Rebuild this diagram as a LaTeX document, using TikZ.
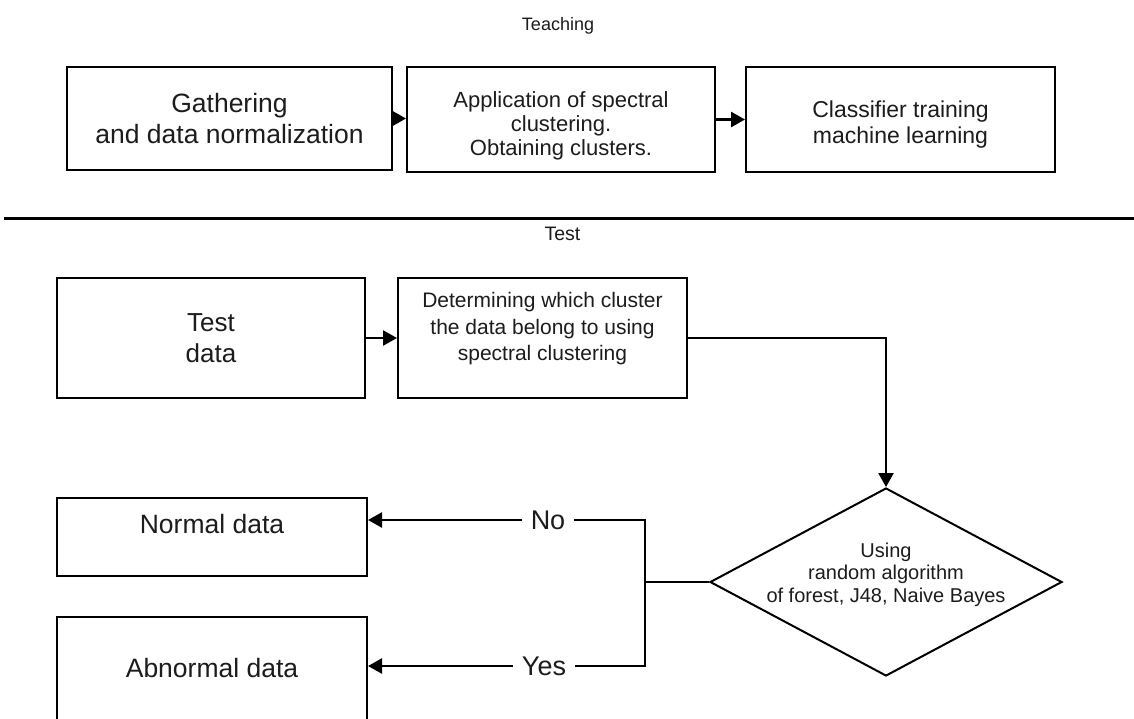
\documentclass[tikz,border=0pt]{standalone}
\usepackage{fontspec}
\setmainfont{Liberation Sans}
\usetikzlibrary{shapes.geometric,arrows.meta}
\definecolor{ink}{HTML}{1C1C1C}
\begin{document}
\begin{tikzpicture}[x=1pt,y=-1pt,
  box/.style={draw=black, line width=2pt, rectangle, inner sep=0pt},
  decision/.style={draw=black, line width=2pt, diamond, inner sep=0pt},
  txt/.style={align=center, text=ink, inner sep=0pt},
  arr/.style={line width=2.5pt, -{Triangle[length=14pt,width=15pt]}},
  conn/.style={line width=2.5pt},
  lbl/.style={text=ink, inner xsep=9pt, inner ysep=0pt, font=\fontsize{27}{32}\selectfont},
  head/.style={text=ink, anchor=base, inner sep=0pt}
]
\useasboundingbox (0,0) rectangle (1134,718);
\clip (0,0) rectangle (1134,718);
\fill[white] (0,0) rectangle (1134,718);

% Teaching stage
\node[head, font=\fontsize{18}{21}\selectfont] (teach) at (558,30) {Teaching};
\node[box, minimum width=325pt, minimum height=103pt,
  label={[txt, font=\fontsize{26.5}{31}\selectfont]center:Gathering\\and data normalization}]
  (gather) at (229.5,118.5) {};
\node[box, minimum width=308pt, minimum height=105pt,
  label={[txt, yshift=-6pt, font=\fontsize{22}{24}\selectfont]center:Application of spectral\\clustering.\\Obtaining clusters.}]
  (spectral) at (561,119.5) {};
\node[box, minimum width=309pt, minimum height=105pt,
  label={[txt, yshift=-5pt, font=\fontsize{23}{26}\selectfont]center:Classifier training\\machine learning}]
  (train) at (900.5,119.5) {};
\draw[arr] (gather.east) -- (gather.east -| spectral.west);
\draw[arr] (spectral.east) -- (spectral.east -| train.west);

% separator between the two stages
\coordinate (sepL) at (4,218);
\coordinate (sepR) at (1134,218);
\draw[line width=3pt] (sepL) -- (sepR);

% Test stage
\node[head, font=\fontsize{19.5}{23}\selectfont] (test) at (562.5,240) {Test};
\node[box, minimum width=308pt, minimum height=120pt,
  label={[txt, font=\fontsize{26}{31}\selectfont]center:Test\\data}]
  (tdata) at (211,338) {};
\node[box, minimum width=289pt, minimum height=120pt,
  label={[txt, yshift=9pt, font=\fontsize{21}{26.5}\selectfont]center:Determining which cluster\\the data belong to using\\spectral clustering}]
  (determ) at (542.5,338) {};
\node[decision, minimum width=352pt, minimum height=188pt,
  label={[txt, yshift=7.5pt, font=\fontsize{20}{22.5}\selectfont]center:Using\\random algorithm\\of forest, J48, Naive Bayes}]
  (algo) at (886,582) {};
\node[box, minimum width=310pt, minimum height=78pt,
  label={[txt, yshift=13pt, font=\fontsize{26.5}{31}\selectfont]center:Normal data}]
  (normal) at (212,537) {};
\node[box, minimum width=310pt, minimum height=105pt,
  label={[txt, yshift=1pt, font=\fontsize{26.5}{31}\selectfont]center:Abnormal data}]
  (abnormal) at (212,669.5) {};

\draw[arr] (tdata.east) -- (tdata.east -| determ.west);
\draw[arr] (determ.east) -| (algo.north);

\node[lbl] (no) at (548,520) {No};
\node[lbl] (yes) at (544,666) {Yes};
\coordinate (split) at (645,582);
\draw[conn] (algo.west) -- (split);
\draw[conn] (split) |- (no.east);
\draw[conn] (split) |- (yes.east);
\draw[arr] (no.west) -- (no.west -| normal.east);
\draw[arr] (yes.west) -- (yes.west -| abnormal.east);
\end{tikzpicture}
\end{document}
